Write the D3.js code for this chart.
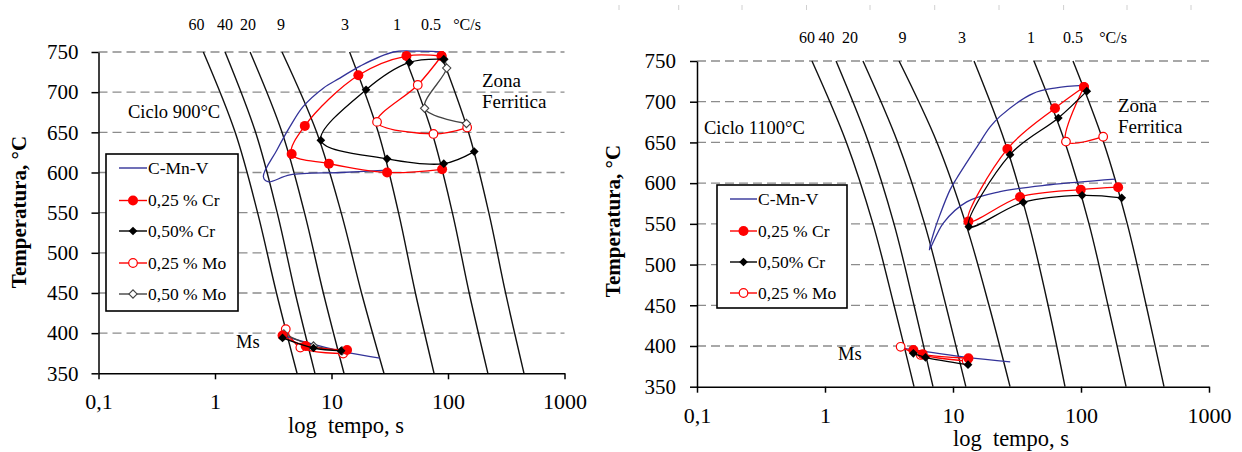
<!DOCTYPE html>
<html>
<head>
<meta charset="utf-8">
<script src="https://cdn.jsdelivr.net/npm/d3@7"></script>
<style>
  body { margin: 0; background: #fff; }
  svg { display: block; font-family: "Liberation Serif", "Times New Roman", serif; }
</style>
</head>
<body>
<svg id="chart" width="1242" height="452"></svg>
<script>
// values (time in s, temperature in °C)
const tempTicks = [350, 400, 450, 500, 550, 600, 650, 700, 750];
const timeTicks = [0.1, 1, 10, 100, 1000];
const timeTickLabels = ['0,1', '1', '10', '100', '1000'];
const rateLabels = ['60', '40', '20', '9', '3', '1', '0.5', '°C/s'];
const seriesNames = ['C-Mn-V', '0,25 % Cr', '0,50% Cr', '0,25 % Mo', '0,50 % Mo'];

// cooling curves: time at each of coolTemps, one row per cooling rate
const coolTemps = [750, 650, 550, 450, 350];
const cool900 = [
  [0.794, 1.49, 2.32, 3.37, 5.06],
  [1.22, 2.23, 3.42, 4.88, 7.21],
  [2.0, 3.76, 5.86, 8.51, 12.8],
  [3.76, 7.46, 12.1, 18.1, 28.2],
  [14.3, 25.2, 37.6, 52.5, 75.9],
  [41.1, 72.8, 109, 152, 220],
  [85.4, 150, 224, 312, 449]
];
const cool1100 = [
  [0.791, 1.47, 2.37, 3.46, 4.96],
  [1.22, 2.19, 3.46, 4.96, 6.98],
  [1.98, 3.7, 6.0, 8.79, 12.6],
  [3.79, 7.5, 12.6, 19.1, 27.9],
  [14.6, 25.5, 39.2, 55.3, 75.0],
  [42.9, 75.0, 115.5, 162.5, 225],
  [86.6, 150.4, 230, 323, 445]
];

// Ciclo 900 °C
const cmnv900 = [[30, 603], [12, 600], [4.4, 597], [2.85, 588.5], [2.6, 595], [3.4, 628], [4.4, 657],
  [5.7, 682], [8.5, 705], [11.8, 717.5], [17.6, 732.5], [34, 750], [55, 751], [85, 750], [95, 748]];
const cmnv900Ms = [[3.75, 397], [12.6, 377], [26, 369]];
const cr25_900 = [[89, 604], [30, 600], [9.5, 611], [4.55, 623], [5.9, 658], [17, 721], [44, 745], [88, 745]];
const cr25_900Ms = [[3.8, 397], [6, 384], [13.6, 379]];
const cr50_900 = [[168, 626], [92, 611], [30, 617], [8.1, 640], [19.8, 703], [46.7, 737], [92, 741]];
const cr50_900Ms = [[3.8, 394], [7, 381.5], [12.1, 378]];
const mo25_900 = [[88, 745], [55, 709], [24.6, 663], [75, 648], [146, 656]];
const mo25_900Ms = [[4.05, 405], [5.4, 382], [12.6, 374.5]];
const mo50_900 = [[92, 741], [97.5, 730], [63, 680], [144, 661]];
const mo50_900Ms = [[3.9, 399], [7, 384], [12.3, 378]];

// Ciclo 1100 °C
const cmnv1100 = [[184.5, 605], [57, 598], [23.3, 589.5], [12.8, 577], [8.4, 551], [6.53, 518], [7.1, 540],
  [7.9, 561], [9.5, 592], [10.7, 606], [15.3, 644], [19.5, 669], [23.3, 682], [42, 710], [64, 717], [104, 720]];
const cmnv1100Ms = [[4.1, 397], [12.8, 386], [28, 380.5]];
const cr25_1100 = [[195, 595], [99.5, 592], [33.4, 583], [13.2, 553], [26.6, 642], [62.6, 692], [105.5, 718]];
const cr25_1100Ms = [[4.9, 395], [5.8, 390], [13.2, 385]];
const cr50_1100 = [[208, 582], [102, 585], [35.4, 576.5], [13.3, 546.5], [27.9, 635], [66.5, 680], [111, 713]];
const cr50_1100Ms = [[4.9, 391], [6.1, 386], [13.1, 377]];
const mo25_1100 = [[105.5, 718], [76.3, 651], [149, 657]];
const mo25_1100Ms = [[3.9, 399], [5.6, 389], [12.8, 381.5]];

// series looks, in legend order
const styles = [
  { stroke: '#333399', marker: null },
  { stroke: '#ff0000', marker: 'circle', fill: '#ff0000' },
  { stroke: '#000000', marker: 'diamond', fill: '#000000' },
  { stroke: '#ff0000', marker: 'circle', fill: '#ffffff', open: true },
  { stroke: '#444444', marker: 'diamond', fill: '#ffffff', open: true }
];
// draw order: C-Mn-V, Mo series, then Cr series on top
const drawOrder = [0, 3, 4, 1, 2];

const panels = [
  {
    cool: cool900,
    xRange: [98.5, 564.5], yRange: [373.3, 52],
    series: [[cmnv900, cmnv900Ms], [cr25_900, cr25_900Ms], [cr50_900, cr50_900Ms],
      [mo25_900, mo25_900Ms], [mo50_900, mo50_900Ms]],
    rateX: [196.5, 225, 248, 281, 345, 397, 431, 467], rateY: 29.5,
    legend: { x: 106, y: 154, w: 132, h: 157, rows: [168, 200.5, 231, 263, 294], lx: [119, 147] },
    cycle: { text: 'Ciclo 900°C', x: 128, y: 117.5 },
    zona: { x: 482, y: [86.5, 108] },
    ms: { x: 236, y: 348 },
    yTitle: { x: 26, y: 212 },
    xTitle: { x: 346, y: 433 },
    yPad: 13, xPad: 14
  },
  {
    cool: cool1100,
    xRange: [697, 1209], yRange: [386.7, 61],
    series: [[cmnv1100, cmnv1100Ms], [cr25_1100, cr25_1100Ms], [cr50_1100, cr50_1100Ms],
      [mo25_1100, mo25_1100Ms]],
    rateX: [807, 826.5, 850, 902.5, 962, 1031, 1073, 1113], rateY: 43,
    legend: { x: 717, y: 185, w: 130, h: 123, rows: [199, 231, 262, 293], lx: [730, 757] },
    cycle: { text: 'Ciclo 1100°C', x: 704, y: 133.5 },
    zona: { x: 1118, y: [111.5, 133] },
    ms: { x: 838, y: 360 },
    yTitle: { x: 620, y: 221 },
    xTitle: { x: 1011, y: 446 },
    yPad: 14, xPad: 14.5
  }
];

const svg = d3.select('#chart');

// faint ruler marks of the page at the top right
const rulerMarks = [619, 678.7, 742, 806.5, 870, 934.7, 999, 1063.6, 1127, 1191];
svg.selectAll('line.ruler').data(rulerMarks).join('line')
  .attr('x1', d => d).attr('x2', d => d).attr('y1', 5).attr('y2', 10)
  .attr('stroke', '#d0d0d0').attr('stroke-width', 1);

function addMarker(sel, st, cx, cy) {
  if (st.marker === 'circle') {
    sel.append('circle').attr('cx', cx).attr('cy', cy)
      .attr('r', st.open ? 4.3 : 5)
      .attr('fill', st.fill)
      .attr('stroke', st.stroke).attr('stroke-width', st.open ? 1.2 : 0);
  } else if (st.marker === 'diamond') {
    sel.append('path')
      .attr('d', d3.symbol(d3.symbolSquare, st.open ? 34 : 38)())
      .attr('transform', `translate(${cx},${cy}) rotate(45)`)
      .attr('fill', st.fill)
      .attr('stroke', st.stroke).attr('stroke-width', st.open ? 1.1 : 0);
  }
}

function drawPanel(p) {
  const x = d3.scaleLog().domain([0.1, 1000]).range(p.xRange);
  const y = d3.scaleLinear().domain([350, 750]).range(p.yRange);
  const g = svg.append('g');

  // dashed gridlines
  g.selectAll('line.grid').data(tempTicks.filter(t => t > 350)).join('line')
    .attr('x1', x(0.1)).attr('x2', x(1000))
    .attr('y1', d => y(d)).attr('y2', d => y(d))
    .attr('stroke', '#8c8c8c').attr('stroke-width', 1.3)
    .attr('stroke-dasharray', '9,5');

  // cooling curves
  const coolLine = d3.line()
    .x(d => x(d[0])).y(d => y(d[1]))
    .curve(d3.curveCatmullRom.alpha(0.5));
  g.selectAll('path.cool').data(p.cool).join('path')
    .attr('d', row => coolLine(row.map((t, i) => [t, coolTemps[i]])))
    .attr('fill', 'none').attr('stroke', '#111').attr('stroke-width', 1.4);

  // axes
  const yAxis = g.append('g')
    .attr('transform', `translate(${x(0.1)},0)`)
    .call(d3.axisLeft(y).tickValues(tempTicks).tickSize(7).tickSizeOuter(0).tickPadding(p.yPad));
  const xAxis = g.append('g')
    .attr('transform', `translate(0,${y(350)})`)
    .call(d3.axisBottom(x).tickValues(timeTicks).tickSize(6).tickSizeOuter(0).tickPadding(p.xPad)
      .tickFormat((d, i) => timeTickLabels[i]));
  [yAxis, xAxis].forEach(a => {
    a.attr('font-family', null).attr('font-size', null);
    a.select('.domain').attr('stroke', '#000').attr('stroke-width', 1.5);
    a.selectAll('.tick line').attr('stroke', '#000').attr('stroke-width', 1.5);
    a.selectAll('.tick text').attr('fill', '#000');
  });
  yAxis.selectAll('.tick text').attr('font-size', 21);
  xAxis.selectAll('.tick text').attr('font-size', 22);

  // series lines and markers
  const line = d3.line()
    .x(d => x(d[0])).y(d => y(d[1]))
    .curve(d3.curveCatmullRom.alpha(0.5));
  drawOrder.forEach(k => {
    if (!p.series[k]) return;
    const st = styles[k];
    p.series[k].forEach(pts => {
      g.append('path').attr('d', line(pts))
        .attr('fill', 'none').attr('stroke', st.stroke).attr('stroke-width', 1.3);
      const mg = g.append('g');
      pts.forEach(d => addMarker(mg, st, x(d[0]), y(d[1])));
    });
  });

  // cooling-rate labels
  g.selectAll('text.rate').data(rateLabels).join('text')
    .attr('x', (d, i) => p.rateX[i]).attr('y', p.rateY)
    .attr('text-anchor', 'middle').attr('font-size', 16).text(d => d);

  // annotations
  g.append('text').attr('x', p.cycle.x).attr('y', p.cycle.y)
    .attr('font-size', 18.5).text(p.cycle.text);
  g.append('text').attr('x', p.zona.x).attr('y', p.zona.y[0]).attr('font-size', 19).text('Zona');
  g.append('text').attr('x', p.zona.x).attr('y', p.zona.y[1]).attr('font-size', 19).text('Ferritica');
  g.append('text').attr('x', p.ms.x).attr('y', p.ms.y).attr('font-size', 18.5).text('Ms');

  // axis titles
  g.append('text')
    .attr('transform', `translate(${p.yTitle.x},${p.yTitle.y}) rotate(-90)`)
    .attr('text-anchor', 'middle').attr('font-size', 21).attr('font-weight', 'bold')
    .text('Temperatura, °C');
  g.append('text').attr('x', p.xTitle.x).attr('y', p.xTitle.y)
    .attr('text-anchor', 'middle').attr('font-size', 22.5)
    .attr('xml:space', 'preserve').style('white-space', 'pre')
    .text('log  tempo, s');

  // legend
  const L = p.legend;
  const lg = g.append('g');
  lg.append('rect').attr('x', L.x).attr('y', L.y).attr('width', L.w).attr('height', L.h)
    .attr('fill', '#fff').attr('stroke', '#000').attr('stroke-width', 1.6);
  L.rows.forEach((ry, k) => {
    const st = styles[k];
    lg.append('line').attr('x1', L.lx[0]).attr('x2', L.lx[1]).attr('y1', ry).attr('y2', ry)
      .attr('stroke', st.stroke).attr('stroke-width', 1.4);
    addMarker(lg, st, (L.lx[0] + L.lx[1]) / 2, ry);
    lg.append('text').attr('x', L.lx[1] + 1).attr('y', ry).attr('dy', '0.34em')
      .attr('font-size', 17.5).attr('xml:space', 'preserve').style('white-space', 'pre')
      .text(seriesNames[k]);
  });
}

panels.forEach(drawPanel);
</script>
</body>
</html>
